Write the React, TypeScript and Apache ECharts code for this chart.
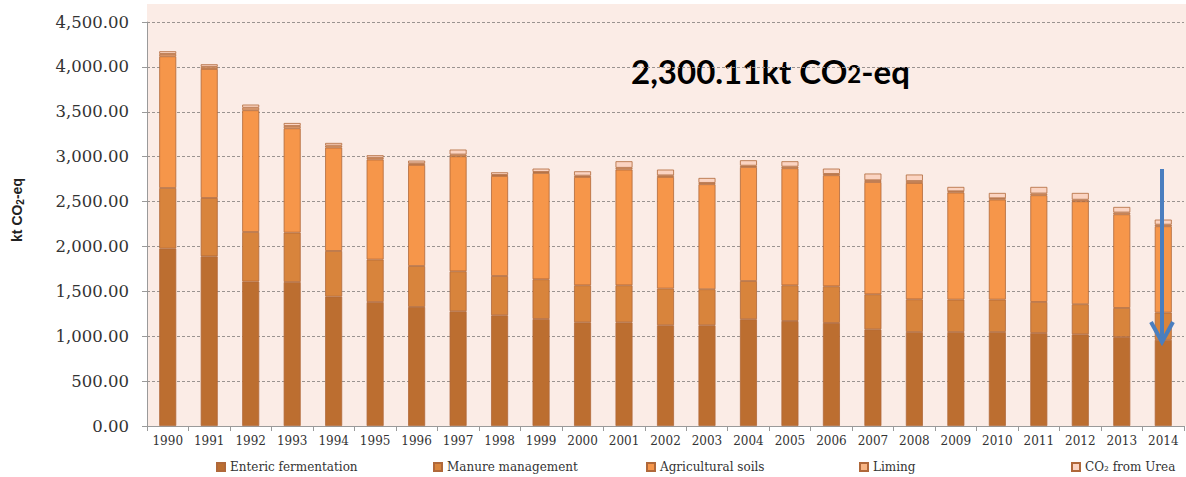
import React, { useEffect, useRef } from "react";
import * as echarts from "echarts";

const years = ["1990","1991","1992","1993","1994","1995","1996","1997","1998","1999","2000","2001","2002","2003","2004","2005","2006","2007","2008","2009","2010","2011","2012","2013","2014"];
const enteric = [1976,1890,1609,1604,1441,1381,1326,1278,1233,1192,1155,1155,1122,1122,1189,1170,1148,1077,1047,1047,1047,1036,1021,991,960];
const manure = [675,650,552,550,509,473,456,445,438,442,412,412,409,401,426,397,408,390,364,361,361,346,335,324,303];
const agriSoils = [1467,1437,1356,1162,1151,1114,1126,1281,1114,1184,1207,1289,1243,1170,1270,1304,1237,1251,1296,1192,1114,1188,1147,1043,962];
const liming = [26,24,28,26,22,20,18,20,12,12,15,20,18,15,15,18,15,20,22,15,15,20,18,20,18];
const urea = [30,28,35,33,30,28,30,55,29,37,48,73,64,55,60,60,59,74,72,48,59,73,75,62,56];
const seriesNames = ["Enteric fermentation","Manure management","Agricultural soils","Liming","CO\u2082 from Urea"];
const seriesData = [enteric, manure, agriSoils, liming, urea];
const colors = ["#BC6E30","#D8843C","#F6964A","#F8B584","#FBD4C2"];
const legendLeft = [216, 433, 646, 859, 1071];

export default function App() {
  const ref = useRef<HTMLDivElement>(null);
  useEffect(() => {
    if (!ref.current) return;
    const chart = echarts.init(ref.current, null, { renderer: "svg" });
    const serif = "DejaVu Serif";
    chart.setOption({
      animation: false,
      backgroundColor: "#ffffff",
      grid: { left: 147, right: 2, top: 22, bottom: 51, containLabel: false },
      legend: seriesNames.map((n, i) => ({
        data: [n],
        left: legendLeft[i],
        top: 461,
        itemWidth: 8,
        itemHeight: 8,
        itemGap: 4,
        icon: "rect",
        textStyle: { fontFamily: serif, fontSize: 12, color: "#333" },
        padding: 0,
      })),
      xAxis: {
        type: "category",
        data: years,
        axisLine: { lineStyle: { color: "#9a9a9a" } },
        axisTick: { show: true, interval: 0, length: 5, lineStyle: { color: "#9a9a9a" } },
        axisLabel: { fontFamily: serif, fontSize: 12, color: "#333", margin: 9, interval: 0 },
      },
      yAxis: {
        type: "value",
        min: 0,
        max: 4500,
        interval: 500,
        name: "{a|kt CO}{b|2}{a|-eq}",
        nameLocation: "middle",
        nameGap: 122,
        nameRotate: 90,
        nameTextStyle: {
          padding: [0, 0, 0, 28],
          rich: {
            a: { fontFamily: "Liberation Sans", fontWeight: "bold", fontSize: 14, color: "#222" },
            b: { fontFamily: "Liberation Sans", fontWeight: "bold", fontSize: 10, color: "#222", padding: [6, 0, 0, 0] },
          },
        },
        axisLine: { show: true, lineStyle: { color: "#9a9a9a" } },
        axisTick: { show: true, length: 5, lineStyle: { color: "#9a9a9a" } },
        axisLabel: {
          fontFamily: serif,
          fontSize: 16.5,
          color: "#333",
          margin: 18,
          formatter: (v: number) => v.toLocaleString("en-US", { minimumFractionDigits: 2, maximumFractionDigits: 2 }),
        },
        splitLine: { lineStyle: { color: "#9a9390", type: [3, 2], width: 1 } },
      },
      series: seriesNames.map((n, i) => ({
        name: n,
        type: "bar",
        stack: "total",
        barWidth: 17,
        data: seriesData[i],
        itemStyle: { color: colors[i], borderColor: "#B0683A", borderWidth: 0.8 },
      })),
      graphic: [
        { type: "rect", z: -10, shape: { x: 147, y: 4, width: 1039, height: 422 }, style: { fill: "#FBECE6" }, silent: true },
        {
          type: "text",
          left: 631,
          top: 54,
          style: {
            text: "{a|2,300.11kt CO}{b|2}{a|-eq}",
            rich: {
              a: { fontFamily: "Lato", fontWeight: "bold", fontSize: 33, fill: "#000" },
              b: { fontFamily: "Lato", fontWeight: "bold", fontSize: 24, fill: "#000", padding: [6, 0, 0, 0] },
            },
          },
        },
        { type: "line", z: 100, shape: { x1: 1162, y1: 169, x2: 1162, y2: 342 }, style: { stroke: "#4A7EBF", lineWidth: 4 } },
        { type: "polyline", z: 100, shape: { points: [[1151, 322], [1162, 342], [1173, 322]] }, style: { stroke: "#4A7EBF", lineWidth: 4, fill: "none", lineJoin: "miter" } },
      ],
    });
    return () => chart.dispose();
  }, []);
  return <div ref={ref} style={{ position: "absolute", left: 0, top: 0, width: 1186, height: 477 }} />;
}
